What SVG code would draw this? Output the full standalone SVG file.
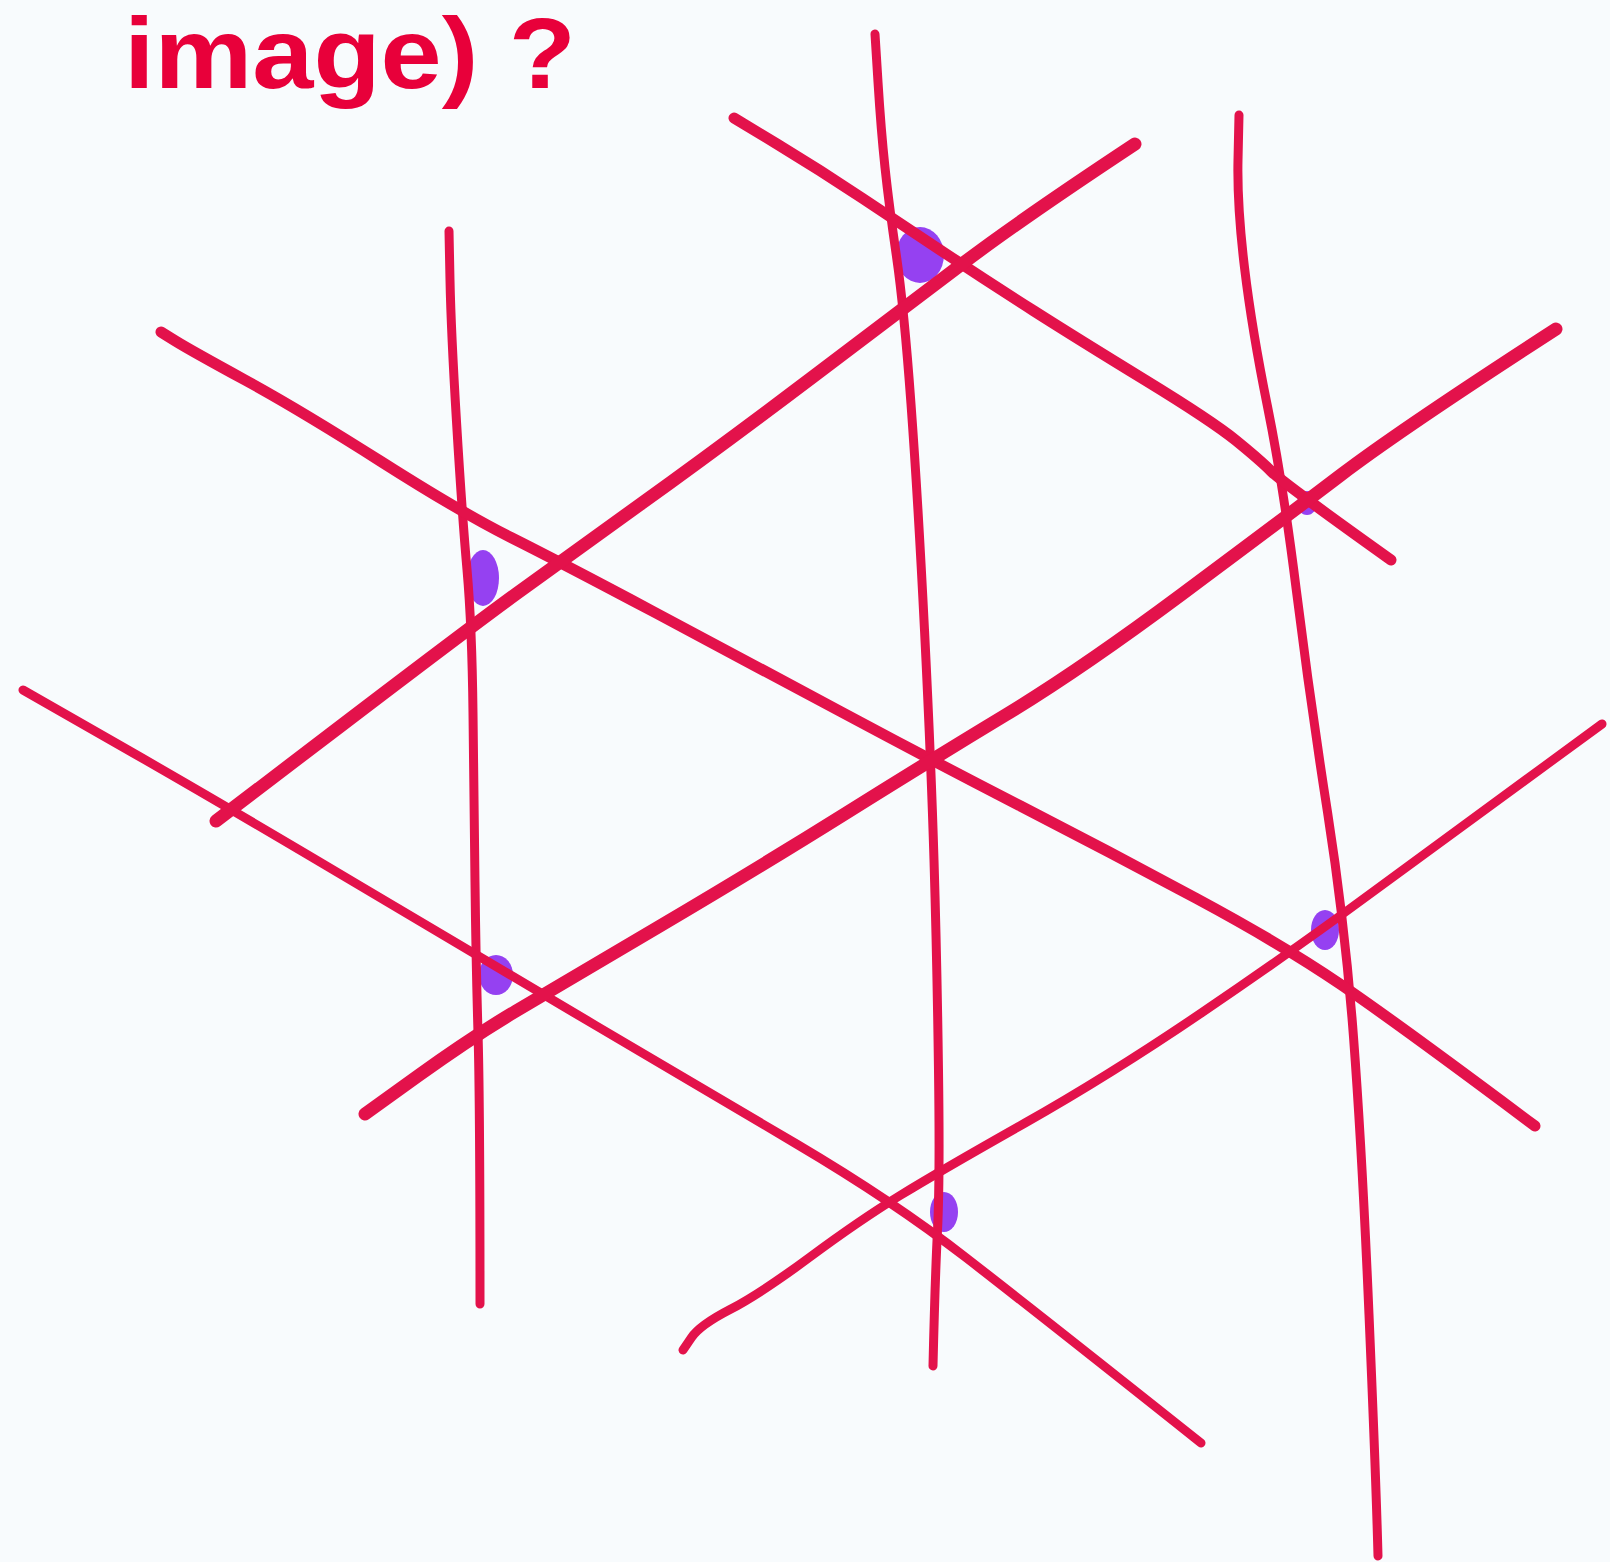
<svg xmlns="http://www.w3.org/2000/svg" width="1610" height="1562" viewBox="0 0 1610 1562">
<style>
.ln{fill:none;stroke:#e3124b;stroke-linecap:round;stroke-linejoin:round}
.t{stroke-width:9}
.m{stroke-width:11}
.k{stroke-width:13}
.dot{fill:#8a2cf0;opacity:0.9}
.lbl{font-family:"Liberation Sans",Arial,sans-serif;font-size:100px;font-weight:bold;fill:#e8003a}
</style>
<rect width="1610" height="1562" fill="#f8fbfd"/>
<text class="lbl" x="124" y="88" textLength="452" lengthAdjust="spacingAndGlyphs">image) ?</text>
<g id="dots">
<ellipse class="dot" cx="920" cy="255" rx="24" ry="28"/>
<ellipse class="dot" cx="483" cy="578" rx="16" ry="28"/>
<ellipse class="dot" cx="1307" cy="503" rx="10" ry="12" opacity="0.5"/>
<ellipse class="dot" cx="496" cy="975" rx="17" ry="20"/>
<ellipse class="dot" cx="1325" cy="930" rx="14" ry="20"/>
<ellipse class="dot" cx="944" cy="1212" rx="14" ry="20"/>
</g>
<g id="connectors">
<path class="ln t" d="M449,231 L450,280 Q451,330 456.5,421.5 Q462,513 467,569.5 Q472,626 473,713 Q474,800 475,882.5 Q476,965 478,1032.5 Q480,1100 480,1304"/>
<path class="ln t" d="M875,34 L878,82 Q881,130 885,167.5 Q889,205 896.5,256.5 Q904,308 911,404 Q918,500 924.5,630 Q931,760 934,860 Q937,960 938.5,1070.5 Q940,1181 937.5,1230.5 Q935,1280 933,1366"/>
<path class="ln t" d="M1239,115 L1238,160 Q1237,205 1244.5,267.5 Q1252,330 1267.5,406.5 Q1283,483 1296.5,591.5 Q1310,700 1327.5,812 Q1345,924 1353.5,1037 Q1362,1150 1369,1314.5 Q1376,1479 1378,1556"/>
<path class="ln m" d="M734,118 L777,144 Q820,170 862,198 Q904,226 947,254.5 Q990,283 1034,311 Q1078,339 1145,380 Q1212,421 1236,440.5 Q1260,460 1271.5,471.5 Q1283,483 1391,560"/>
<path class="ln m" d="M161,332 L175.5,341 Q190,350 245,380 Q300,410 381,461.5 Q462,513 511,537.5 Q560,562 655,612.5 Q750,663 840.5,711.5 Q931,760 1020.5,806 Q1110,852 1196.5,898.5 Q1283,945 1341.5,985 Q1400,1025 1535,1126"/>
<path class="ln t" d="M23,690 L124.5,748 Q226,806 359.5,885.5 Q493,965 596.5,1026 Q700,1087 796.5,1144 Q893,1201 966.5,1258 Q1040,1315 1201,1443"/>
<path class="ln k" d="M216,821 L344,723.5 Q472,626 516,594 Q560,562 640,504.5 Q720,447 812,377.5 Q904,308 962,264 Q1020,220 1135,144"/>
<path class="ln k" d="M365,1114 L418.5,1075.5 Q472,1037 516,1011 Q560,985 660,926 Q760,867 845.5,813.5 Q931,760 1005.5,715 Q1080,670 1181.5,594.5 Q1283,519 1341.5,474.5 Q1400,430 1556,329"/>
<path class="ln t" d="M683,1350 L691.5,1337.5 Q700,1325 730,1309.5 Q760,1294 810,1257 Q860,1220 900,1195.5 Q940,1171 1025,1123 Q1110,1075 1202,1012.5 Q1294,950 1372,892.5 Q1450,835 1602,724"/>
</g>
</svg>
